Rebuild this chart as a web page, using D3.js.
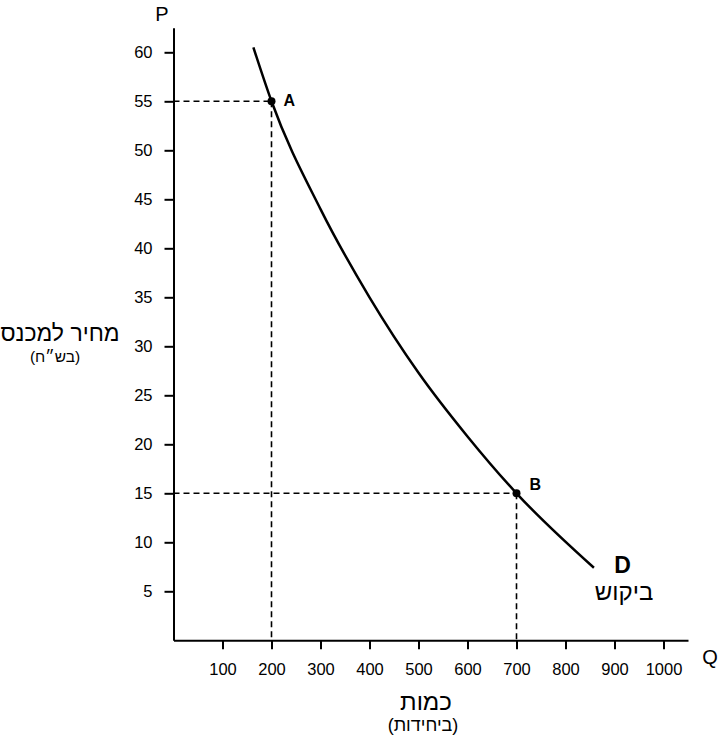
<!DOCTYPE html>
<html>
<head>
<meta charset="utf-8">
<script src="https://cdn.jsdelivr.net/npm/d3@7"></script>
<style>
  body { margin: 0; background: #fff; }
  svg text { font-family: "Liberation Sans", Arial, "DejaVu Sans", sans-serif; fill: #000; }
  .axis path, .axis line { stroke: #000; stroke-width: 2; }
</style>
</head>
<body>
<div id="main"></div>
<script>
const ctx = {
    w: 722,
    h: 737,
};

// tick labels
const xTicks = [100, 200, 300, 400, 500, 600, 700, 800, 900, 1000];
const yTicks = [5, 10, 15, 20, 25, 30, 35, 40, 45, 50, 55, 60];

// demand curve
const demandQ = [163, 200, 300, 400, 500, 600, 700, 858];
const demandP = [60.5, 55, 44, 35, 27.3, 20.8, 15, 7.4];

// marked points
const pointNames = ["A", "B"];
const pointQ = [200, 700];
const pointP = [55, 15];

const x = d3.scaleLinear().domain([0, 1050]).range([173.5, 688]);
const y = d3.scaleLinear().domain([0, 62.5]).range([640.3, 27.8]);

const svg = d3.select("#main").append("svg")
    .attr("width", ctx.w)
    .attr("height", ctx.h);

// dashed guides
const guides = svg.append("g").attr("id", "guides");
pointQ.forEach(function(q, i){
    const p = pointP[i];
    guides.append("line")
        .attr("x1", x(0)).attr("x2", x(q))
        .attr("y1", y(p)).attr("y2", y(p));
    guides.append("line")
        .attr("x1", x(q)).attr("x2", x(q))
        .attr("y1", y(p)).attr("y2", y(0));
});
guides.selectAll("line")
    .attr("stroke", "#000")
    .attr("stroke-width", 1.6)
    .attr("stroke-dasharray", "6,4");

// axes
svg.append("g").attr("class", "axis")
    .attr("transform", `translate(0,${y(0)})`)
    .call(d3.axisBottom(x).tickValues(xTicks).tickFormat(d3.format("d"))
            .tickSize(9).tickSizeOuter(0).tickPadding(14))
    .attr("font-size", 16.5)
    .attr("font-family", null)
    .call(g => g.selectAll("text").attr("dy", "0.71em"));

svg.append("g").attr("class", "axis")
    .attr("transform", `translate(${x(0)},0)`)
    .call(d3.axisLeft(y).tickValues(yTicks).tickSize(9).tickSizeOuter(0).tickPadding(12))
    .attr("font-size", 16.5)
    .attr("font-family", null);

// demand curve
const line = d3.line()
    .x((d, i) => x(demandQ[i]))
    .y((d, i) => y(demandP[i]))
    .curve(d3.curveMonotoneX);

svg.append("path")
    .datum(demandQ)
    .attr("d", line)
    .attr("fill", "none")
    .attr("stroke", "#000")
    .attr("stroke-width", 2.5);

// points
const pts = svg.append("g").attr("id", "points");
pointQ.forEach(function(q, i){
    pts.append("circle")
        .attr("cx", x(q)).attr("cy", y(pointP[i]))
        .attr("r", 4);
    pts.append("text")
        .attr("x", x(q) + (i === 0 ? 12 : 13))
        .attr("y", y(pointP[i]) + (i === 0 ? -1 : -9))
        .attr("dy", "0.35em")
        .attr("font-size", 16)
        .attr("font-weight", "bold")
        .text(pointNames[i]);
});

// curve label
svg.append("text")
    .attr("x", 622.5).attr("y", 565).attr("dy", "0.35em")
    .attr("text-anchor", "middle")
    .attr("font-size", 23).attr("font-weight", "bold")
    .text("D");
svg.append("text")
    .attr("x", 624).attr("y", 592).attr("dy", "0.35em")
    .attr("text-anchor", "middle")
    .attr("font-size", 24)
    .text("ביקוש");

// axis letters
svg.append("text")
    .attr("x", 162).attr("y", 14).attr("dy", "0.35em")
    .attr("text-anchor", "middle").attr("font-size", 20)
    .text("P");
svg.append("text")
    .attr("x", 710).attr("y", 657).attr("dy", "0.35em")
    .attr("text-anchor", "middle").attr("font-size", 20)
    .text("Q");

// axis titles
svg.append("text")
    .attr("x", 60).attr("y", 333).attr("dy", "0.35em")
    .attr("text-anchor", "middle").attr("font-size", 23)
    .text("מחיר למכנס");
svg.append("text")
    .attr("x", 55).attr("y", 357).attr("dy", "0.35em")
    .attr("text-anchor", "middle").attr("font-size", 15.5)
    .text("(בש״ח)");
svg.append("text")
    .attr("x", 426).attr("y", 702).attr("dy", "0.35em")
    .attr("text-anchor", "middle").attr("font-size", 24)
    .text("כמות");
svg.append("text")
    .attr("x", 423).attr("y", 725).attr("dy", "0.35em")
    .attr("text-anchor", "middle").attr("font-size", 18)
    .text("(ביחידות)");
</script>
</body>
</html>
